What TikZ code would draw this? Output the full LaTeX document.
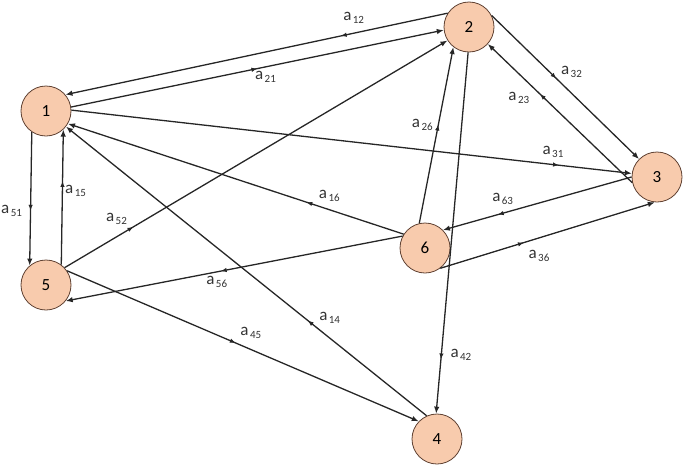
\documentclass[tikz,border=0pt]{standalone}
\usepackage{fontspec}
\setmainfont{Carlito}
\usetikzlibrary{arrows.meta,decorations.markings}
\definecolor{nodefill}{RGB}{248,203,173}
\definecolor{nodeline}{RGB}{95,65,50}
\newcommand{\asub}[1]{a\kern1.5pt{\fontsize{11}{12}\selectfont\raisebox{-3pt}{#1}}}

\begin{document}
\begin{tikzpicture}[x=1pt, y=-1pt,
  state/.style={circle, draw=nodeline, thick, fill=nodefill, minimum size=50pt, inner sep=0pt, font=\fontsize{17}{20}\selectfont},
  ed/.style={draw=black!85, line width=1.3pt, -{Latex[length=7pt,width=5.5pt]}},
  midarr/.style={postaction={decorate, decoration={markings, mark=at position #1 with {\arrow{Latex[length=6pt,width=4.5pt]}}}}},
  lbl/.style={font=\fontsize{17}{19}\selectfont, text=black!80, inner sep=0pt}]
  \useasboundingbox (0,0) rectangle (685,466);
  % states
  \node[state] (n1) at (46,111) {1};
  \node[state] (n2) at (469,27) {2};
  \node[state] (n3) at (657,177) {3};
  \node[state] (n4) at (437,439) {4};
  \node[state] (n5) at (46,285) {5};
  \node[state] (n6) at (425,248) {6};
  % transitions
  \draw[ed, midarr=0.28] (n2.147) -- node[lbl, pos=0.28, xshift=13pt, yshift=18pt] (l12) {\asub{12}} (n1.40);
  \draw[ed, midarr=0.5] (n1.9) -- node[lbl, pos=0.5, xshift=8pt, yshift=-8pt] (l21) {\asub{21}} (n2.187);
  \draw[ed, midarr=0.87] (n1.2) -- node[lbl, pos=0.87, xshift=-6pt, yshift=13pt] (l31) {\asub{31}} (n3.172);
  \draw[ed, midarr=0.44] (n2.27) -- node[lbl, pos=0.44, xshift=15pt, yshift=7pt] (l32) {\asub{32}} (n3.135);
  \draw[ed, midarr=0.64] (n3.193) -- node[lbl, pos=0.64, xshift=-21pt, yshift=-4pt] (l23) {\asub{23}} (n2.318);
  \draw[ed, midarr=0.56] (n6.103) -- node[lbl, pos=0.56, xshift=-16pt] (l26) {\asub{26}} (n2.232);
  \draw[ed, midarr=0.85] (n2.268) -- node[lbl, pos=0.85, xshift=20pt, yshift=5pt] (l42) {\asub{42}} (n4.92);
  \draw[ed, midarr=0.29] (n6.147) -- node[lbl, pos=0.29, xshift=23pt, yshift=6pt] (l16) {\asub{16}} (n1.330);
  \draw[ed, midarr=0.33] (n4.114) -- node[lbl, pos=0.33, xshift=22pt, yshift=3pt] (l14) {\asub{14}} (n1.322);
  \draw[ed, midarr=0.59] (n1.236) -- node[lbl, pos=0.59, xshift=-19pt] (l51) {\asub{51}} (n5.130);
  \draw[ed, midarr=0.62] (n5.53) -- node[lbl, pos=0.62, xshift=13pt, yshift=-10pt] (l15) {\asub{15}} (n1.313);
  \draw[ed, midarr=0.18] (n5.43) -- node[lbl, pos=0.18, xshift=-17pt, yshift=8pt] (l52) {\asub{52}} (n2.212);
  \draw[ed, midarr=0.48] (n5.34) -- node[lbl, pos=0.48, xshift=15pt, yshift=10pt] (l45) {\asub{45}} (n4.136);
  \draw[ed, midarr=0.54] (n6.152) -- node[lbl, pos=0.54, xshift=-4pt, yshift=-11pt] (l56) {\asub{56}} (n5.321);
  \draw[ed, midarr=0.71] (n3.180) -- node[lbl, pos=0.71, xshift=5pt, yshift=16pt] (l63) {\asub{63}} (n6.45);
  \draw[ed, midarr=0.39] (n6.307) -- node[lbl, pos=0.39, xshift=15pt, yshift=-13pt] (l36) {\asub{36}} (n3.265);
\end{tikzpicture}
\end{document}
